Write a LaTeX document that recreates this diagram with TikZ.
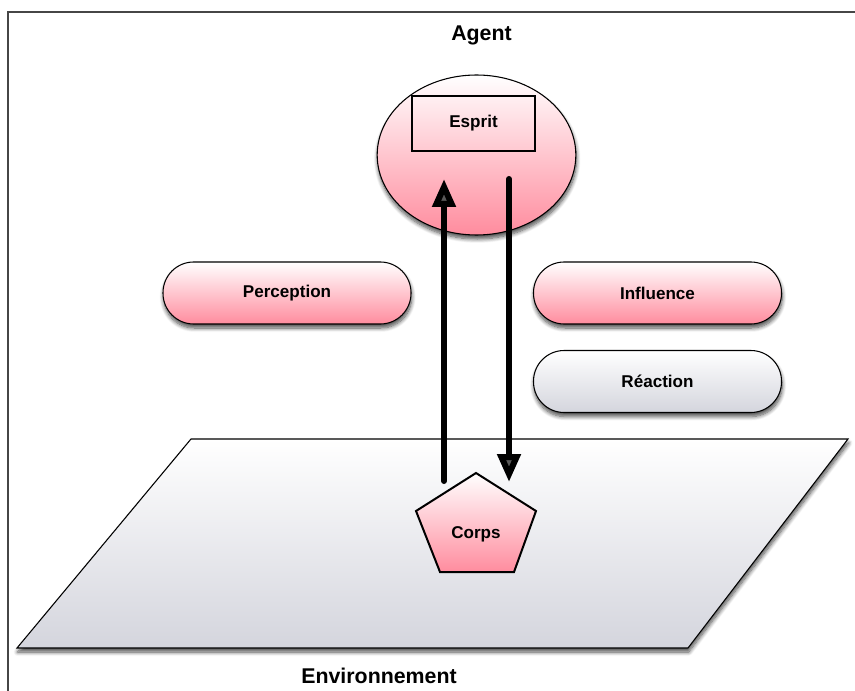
\documentclass[tikz,border=0pt]{standalone}
\usepackage{fontspec}
\setmainfont{Liberation Sans}
\usepackage{tikz}
\usetikzlibrary{shapes.geometric,shadows.blur,arrows.meta}

\definecolor{pinkbot}{RGB}{255,140,158}
\definecolor{greybot}{RGB}{212,213,221}
\definecolor{framegrey}{RGB}{70,70,70}

\tikzset{
  pinkfill/.style={top color=white,bottom color=pinkbot},
  greyfill/.style={top color=white,bottom color=greybot},
  softshadow/.style={blur shadow={shadow xshift=0.5pt,shadow yshift=-3pt,shadow blur radius=3pt,shadow blur steps=8,shadow opacity=70}},
  pill/.style={draw,line width=0.8pt,rounded corners=23pt,minimum width=186pt,minimum height=46.5pt,softshadow,font=\fontsize{12.8}{15}\bfseries},
  bigtext/.style={font=\fontsize{16}{18}\bfseries,inner sep=0.75pt},
  flow/.style={line width=4.5pt,line cap=round,-{Triangle[length=21pt,width=17pt]}}
}

\begin{document}
\begin{tikzpicture}[x=0.75pt,y=0.75pt,yscale=-1,xscale=1]
\useasboundingbox (0,0) rectangle (855,691);

%Straight Lines: frame
\draw[framegrey,line width=1.1pt] (855,12) -- (8,12) -- (8,691);

%Shape: Parallelogram
\draw[greyfill,line width=0.8pt,softshadow] (191,439) -- (848,439) -- (688,648) -- (17,648) -- cycle;

%Shape: Ellipse
\node (mind) [draw,ellipse,pinkfill,line width=0.8pt,softshadow,minimum width=149pt,minimum height=120pt] at (476.5,155) {};
%Shape: Rectangle
\node (esprit) [draw,line width=1.9pt,minimum width=92pt,minimum height=41pt,font=\fontsize{12.8}{15}\bfseries] at (473.5,123.5) {Esprit};

%Shape: Pills
\node (perception) [pill,pinkfill] at (287,293) {Perception};
\node (influence) [pill,pinkfill] at (657.5,293) {Influence};
\node (reaction) [pill,greyfill] at (657.5,381.5) {Réaction};

%Shape: Pentagon
\draw[pinkfill,line width=1.5pt,line join=miter] (476,473) -- (536,511) -- (514,572) -- (440,572) -- (416,511) -- cycle;
\node (corps) [font=\fontsize{12.8}{15}\bfseries] at (476,534) {Corps};

%Arrows
\coordinate (upfrom) at (444,481);
\coordinate (upto) at (444,179);
\coordinate (downfrom) at (509,179);
\coordinate (downto) at (509,482);
\draw[flow] (upfrom) -- (upto);
\draw[flow] (downfrom) -- (downto);

% Text Node
\node (agent) [bigtext] at (481.5,35) {Agent};
% Text Node
\node (env) [bigtext] at (379,676) {Environnement};

\end{tikzpicture}
\end{document}
